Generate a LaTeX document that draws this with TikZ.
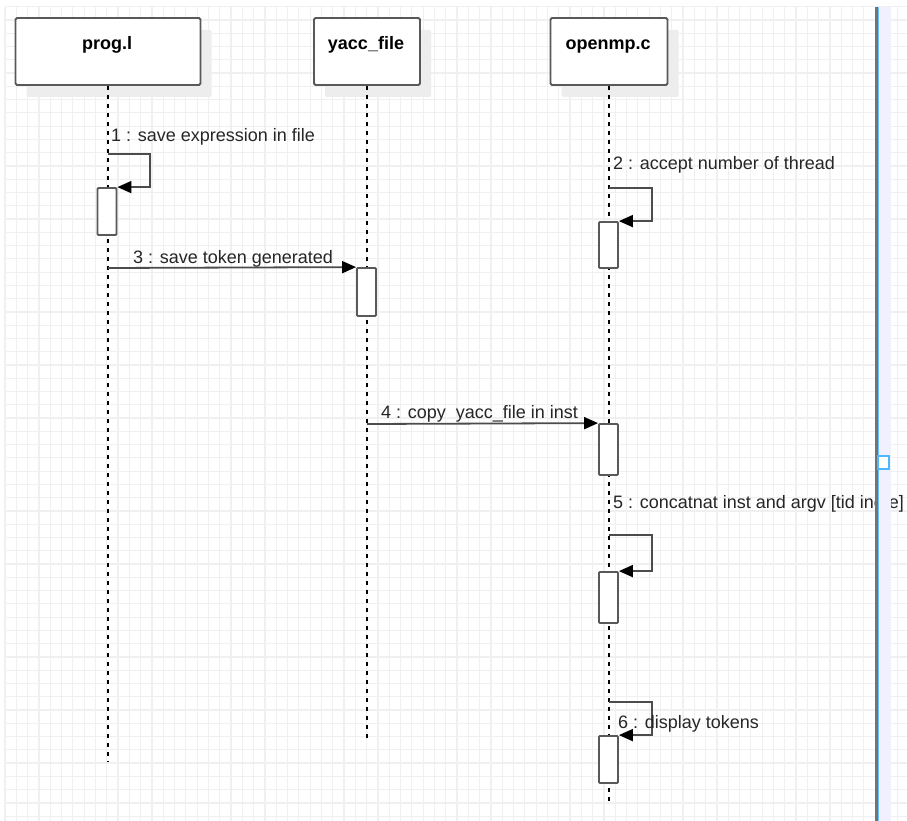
\documentclass[tikz,border=0pt]{standalone}
\usepackage{fontspec}
\setmainfont{Liberation Sans}
\usetikzlibrary{arrows.meta,shadows}

\tikzset{
  gridline/.style={draw=black!6, line width=1.2pt},
  head/.style={draw=black!65, line width=1.8pt, fill=white, rounded corners=1.5pt,
    minimum height=67pt, inner sep=0pt,
    drop shadow={shadow xshift=11pt, shadow yshift=-12pt, fill=black!7, opacity=1}},
  headtxt/.style={anchor=base, inner sep=0pt, font=\fontsize{18}{20}\selectfont\bfseries},
  lifeline/.style={draw=black, line width=1.3pt, dash pattern=on 4pt off 5pt},
  act/.style={draw=black!65, line width=1.8pt, fill=white, rounded corners=1pt,
    minimum width=19pt, inner sep=0pt},
  msg/.style={draw=black!70, line width=1.8pt, -{Triangle[length=14pt,width=12pt,color=black]}},
  msgtxt/.style={anchor=base west, inner sep=0pt, text=black!85, font=\fontsize{18}{20}\selectfont}
}

\begin{document}
\begin{tikzpicture}[x=1pt, y=-1pt]
  \useasboundingbox (0,0) rectangle (907,821);
  \fill[white] (0,0) rectangle (907,821);

  % grid
  \foreach \gx in {0,...,80}
    \draw[gridline] ({5+11.3*\gx},6.7) -- ({5+11.3*\gx},821);
  \foreach \gy in {0,...,61}
    \draw[gridline] (5,{6.7+13.27*\gy}) -- (907,{6.7+13.27*\gy});

  % lifeline heads
  \node[head, minimum width=185pt] (prog) at (108,51.5) {};
  \node[head, minimum width=106pt] (yacc) at (367,51.5) {};
  \node[head, minimum width=117pt] (openmp) at (609,51.5) {};
  \node[headtxt] (progtxt) at (107,50) {prog.l};
  \node[headtxt] (yacctxt) at (366,50) {yacc\_file};
  \node[headtxt] (openmptxt) at (608,50) {openmp.c};

  % lifelines
  \coordinate (progend) at (108,762);
  \coordinate (yaccend) at (367,742);
  \coordinate (openmpend) at (609,802);
  \draw[lifeline] (prog.south) -- (progend);
  \draw[lifeline] (yacc.south) -- (yaccend);
  \draw[lifeline] (openmp.south) -- (openmpend);

  % activations
  \node[act, minimum height=47pt] (a1) at (107,211.5) {};
  \node[act, minimum height=48pt] (a3) at (366.5,292) {};
  \node[act, minimum height=46pt] (a2) at (608.5,245) {};
  \node[act, minimum height=51pt] (a4) at (608.5,449.5) {};
  \node[act, minimum height=51pt] (a5) at (608.5,597.5) {};
  \node[act, minimum height=47pt] (a6) at (608.5,759.5) {};

  % messages
  \coordinate (s1) at (108,154);
  \coordinate (s2) at (609,188);
  \coordinate (s3) at (108,268);
  \coordinate (s4) at (367,424);
  \coordinate (s5) at (609,535);
  \coordinate (s6) at (609,702);
  \draw[msg] (s1) -- ++(42,0) |- (a1.north east);
  \draw[msg] (s2) -- ++(43,0) |- (a2.north east);
  \draw[msg] (s3) -- (a3.north west);
  \draw[msg] (s4) -- (a4.north west);
  \draw[msg] (s5) -- ++(43,0) |- (a5.north east);
  \draw[msg] (s6) -- ++(43,0) |- (a6.north east);

  \node[msgtxt] (l1) at (111,142) {1 : save expression in file};
  \node[msgtxt] (l2) at (613,170) {2 : accept number of thread};
  \node[msgtxt] (l3) at (133,263) {3 : save token generated};
  \node[msgtxt] (l4) at (381,418) {4 : copy\ \ yacc\_file in inst};
  \node[msgtxt] (l5) at (613,508) {5 : concatnat inst and argv [tid incre]};
  \node[msgtxt] (l6) at (618,728) {6 : display tokens};

  % page edge
  \fill[blue!6] (878,6.7) rectangle (891,821);
  \draw[black!55, line width=3pt] (876,6.7) -- (876,821);
  \draw[blue!40!cyan!60, line width=1pt] (878.5,6.7) -- (878.5,821);
  \draw[blue!40!cyan!70, line width=1.2pt, fill=white] (878,456) rectangle (889,469);
\end{tikzpicture}
\end{document}
